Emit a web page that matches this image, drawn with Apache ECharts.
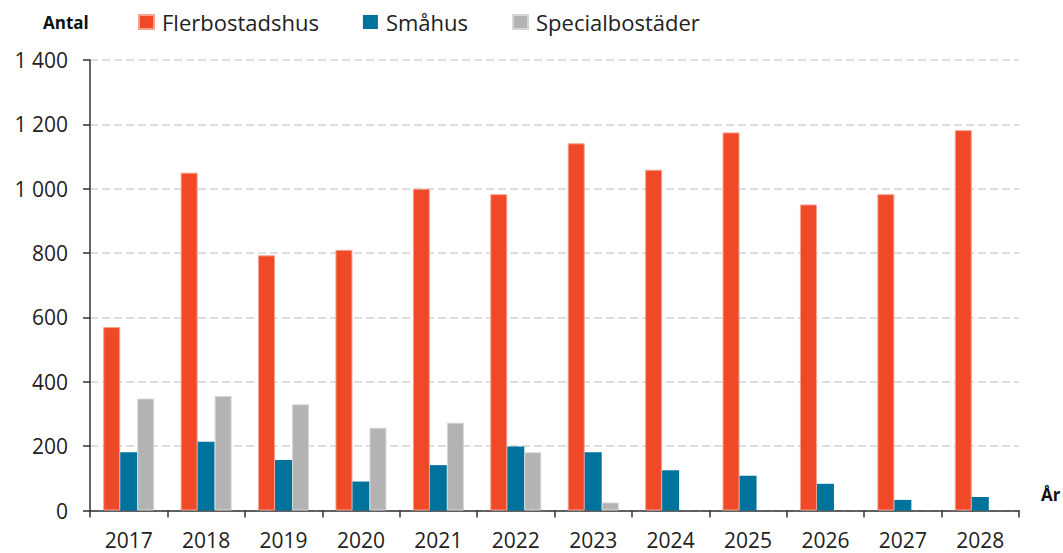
<!DOCTYPE html>
<html>
<head>
<meta charset="utf-8">
<script src="https://cdn.jsdelivr.net/npm/echarts@6/dist/echarts.min.js"></script>
<style>
html,body{margin:0;padding:0;background:#fff;}
#chart{width:1063px;height:553px;}
</style>
</head>
<body>
<div id="chart"></div>
<script>
const years = ['2017','2018','2019','2020','2021','2022','2023','2024','2025','2026','2027','2028'];
const flerbostadshus = [570, 1050, 793, 810, 1000, 983, 1141, 1059, 1175, 951, 983, 1182];
const smahus = [181, 214, 157, 90, 141, 199, 181, 125, 108, 83, 33, 42];
const specialbostader = [348, 356, 330, 257, 273, 181, 25, null, null, null, null, null];
const yTicks = [0, 200, 400, 600, 800, 1000, 1200, 1400];

const FONT = '"Open Sans", "Noto Sans", sans-serif';
const chart = echarts.init(document.getElementById('chart'), null, {renderer: 'svg'});

function fmt(v){ return String(v).replace(/\B(?=(\d{3})+(?!\d))/g, ' '); }

chart.setOption({
  animation: false,
  textStyle: {fontFamily: FONT},
  title: {
    text: 'Antal', left: 43, top: 14, padding: 0,
    textStyle: {fontFamily: FONT, fontSize: 17, fontWeight: 'bold', color: '#111'}
  },
  legend: {
    left: 138, top: 11, padding: 0,
    itemWidth: 15, itemHeight: 14, itemGap: 44,
    textStyle: {fontFamily: FONT, fontSize: 22, color: '#222', padding: [0,0,0,3]},
    icon: 'rect',
    data: ['Flerbostadshus', 'Småhus', 'Specialbostäder']
  },
  grid: {left: 90, right: 44, top: 60, bottom: 42.5, containLabel: false},
  graphic: [{
    type: 'text', left: 1041, top: 486,
    style: {text: 'År', fontFamily: FONT, fontSize: 17, fontWeight: 'bold', fill: '#111'}
  }],
  xAxis: {
    type: 'category', data: years,
    axisLine: {lineStyle: {color: '#333', width: 1.5}},
    axisTick: {show: true, length: 7, lineStyle: {color: '#333', width: 1.5}},
    axisLabel: {fontFamily: FONT, fontSize: 21, lineHeight: 21, color: '#222', margin: 19}
  },
  yAxis: {
    type: 'value', min: yTicks[0], max: yTicks[yTicks.length-1], interval: 200,
    axisLine: {show: true, lineStyle: {color: '#333', width: 1.5}},
    axisTick: {show: true, length: 7, lineStyle: {color: '#333', width: 1.5}},
    axisLabel: {fontFamily: FONT, fontSize: 21, color: '#222', margin: 22, formatter: fmt},
    splitLine: {show: true, lineStyle: {color: '#D4D4D4', width: 1.5, type: [8, 4]}}
  },
  series: [
    {name: 'Flerbostadshus', type: 'bar', data: flerbostadshus, barWidth: 17, barGap: '0%',
     itemStyle: {color: '#EF4928', borderColor: '#F6A28F', borderWidth: 1}},
    {name: 'Småhus', type: 'bar', data: smahus, barWidth: 17, barGap: '0%',
     itemStyle: {color: '#00739D'}},
    {name: 'Specialbostäder', type: 'bar', data: specialbostader, barWidth: 17, barGap: '0%',
     itemStyle: {color: '#B3B3B3', borderColor: '#D6D6D6', borderWidth: 1}}
  ]
});
</script>
</body>
</html>
